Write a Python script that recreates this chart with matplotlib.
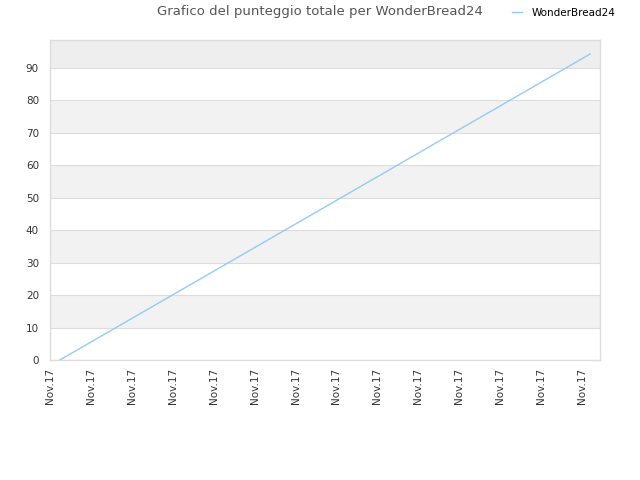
import matplotlib
matplotlib.use("Agg")
import matplotlib.pyplot as plt

# === DATA ===
TITLE = "Grafico del punteggio totale per WonderBread24"
SERIES_NAME = "WonderBread24"
X_VALUES = [0.24, 13.2]
PUNTEGGIO = [0.0, 94.3]
TICK_POS = list(range(14))
TICK_LABELS = ["Nov.17"] * 14
Y_TICKS = [0, 10, 20, 30, 40, 50, 60, 70, 80, 90]
Y_MAX = 98.6
X_MAX = 13.44

LINE_COLOR = "#99c8f7"
GRID_COLOR = "#dddddd"
TEXT_COLOR = "#444444"

fig = plt.figure(figsize=(6.4, 4.8), dpi=100)
ax = fig.add_axes([50 / 640, 120 / 480, 550 / 640, 320 / 480])

# alternerende banden
for i, y0 in enumerate(Y_TICKS):
    y1 = min(y0 + 10, Y_MAX)
    if i % 2 == 1:
        ax.axhspan(y0, y1, color="#f2f2f2", lw=0, zorder=0)
ax.axhspan(Y_TICKS[-1], Y_MAX, color="#eeeeee", lw=0, zorder=0)

ax.plot(X_VALUES, PUNTEGGIO, color=LINE_COLOR, linewidth=1.0, label=SERIES_NAME, zorder=3)

ax.set_xlim(0, X_MAX)
ax.set_ylim(0, Y_MAX)
ax.set_yticks(Y_TICKS)
ax.set_yticklabels([str(v) for v in Y_TICKS])
ax.set_xticks(TICK_POS)
ax.set_xticklabels(TICK_LABELS, rotation=90)
ax.tick_params(axis="both", length=0, labelsize=7.5, labelcolor="#333333")
ax.tick_params(axis="y", pad=8)
ax.tick_params(axis="x", pad=6)

ax.grid(axis="y", color=GRID_COLOR, linewidth=0.8, zorder=1)
ax.set_axisbelow(True)
for s in ax.spines.values():
    s.set_color(GRID_COLOR)
    s.set_linewidth(1.0)

fig.text(0.5, 1 - 12 / 480, TITLE, ha="center", va="center", fontsize=9.5, color="#555555")
fig.legend(loc="center right", bbox_to_anchor=(621 / 640, 1 - 13 / 480), frameon=False,
           fontsize=7.5, handlelength=1.0, handletextpad=0.95, borderpad=0)

fig.savefig("out.png", dpi=100)
